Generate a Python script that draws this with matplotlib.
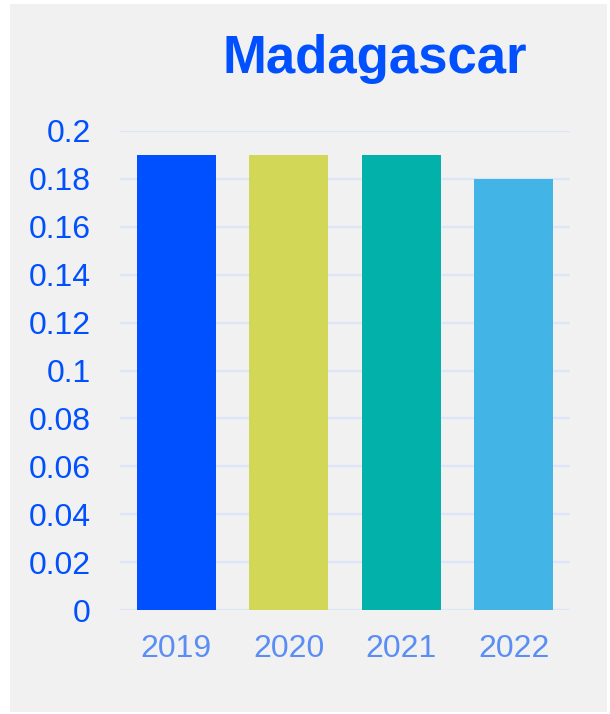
import matplotlib.pyplot as plt
from matplotlib.patches import Rectangle

years = ['2019', '2020', '2021', '2022']
values = [0.19, 0.19, 0.19, 0.18]
colors = ['#0050FF', '#D3D757', '#02B2AA', '#42B5E6']
yticks = [0, 0.02, 0.04, 0.06, 0.08, 0.1, 0.12, 0.14, 0.16, 0.18, 0.2]
ytick_labels = ['0', '0.02', '0.04', '0.06', '0.08', '0.1', '0.12', '0.14', '0.16', '0.18', '0.2']

plt.rcParams['font.family'] = ['Liberation Sans', 'DejaVu Sans']

fig = plt.figure(figsize=(6.1, 7.14), dpi=100)
fig.patch.set_facecolor('white')
# grey panel behind the chart
fig.patches.append(Rectangle((10 / 610, 2 / 714), 597 / 610, 708 / 714,
                             transform=fig.transFigure, facecolor='#F1F1F1',
                             edgecolor='none', zorder=-10))

ax = fig.add_axes([120 / 610, 104 / 714, 450 / 610, 479 / 714])
ax.set_facecolor('none')
ax.set_zorder(1)

ax.bar(range(len(years)), values, width=0.70, color=colors, zorder=3)
ax.set_xlim(-0.5, len(years) - 0.5)
ax.set_ylim(0, 0.2)
ax.set_yticks(yticks)
ax.set_yticklabels(ytick_labels)
ax.set_xticks(range(len(years)))
ax.set_xticklabels(years)

ax.grid(axis='y', color='#DDE6F8', linewidth=1.6, zorder=0)
ax.set_axisbelow(True)
for s in ax.spines.values():
    s.set_visible(False)
ax.tick_params(axis='y', length=0, pad=21, labelsize=23, labelcolor='#0050FF')
ax.tick_params(axis='x', length=0, pad=17, labelsize=23, labelcolor='#5B8EF5')

fig.text(375 / 610, 1 - 73 / 714, 'Madagascar', ha='center', va='baseline',
         fontsize=38, fontweight='bold', color='#0050FF')

plt.savefig('out.png', dpi=100, facecolor=fig.get_facecolor())
